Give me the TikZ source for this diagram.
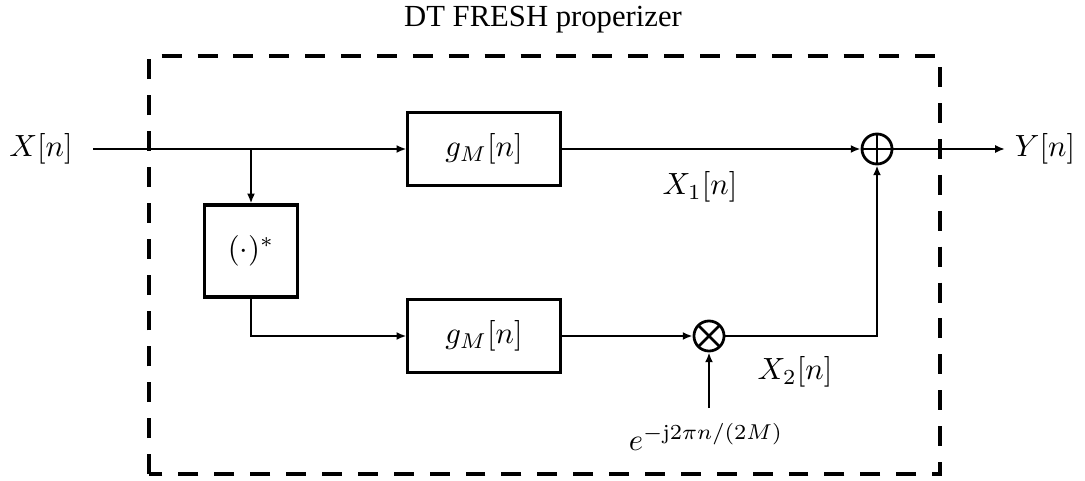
\documentclass[tikz,border=0pt]{standalone}
\usepackage{fontspec}
\newfontfamily\titlefont{Liberation Serif}
\usetikzlibrary{arrows.meta}
\tikzset{
  px/.style={x=0.326pt,y=-0.326pt},
  wire/.style={line width=0.85pt},
  arr/.style={wire,-{Latex[length=3.2pt,width=2.6pt]}},
  blockbox/.style={draw,line width=1pt,minimum width=49.6pt,minimum height=24pt,inner sep=0pt},
  conjbox/.style={draw,line width=1pt,minimum width=30.6pt,minimum height=30pt,inner sep=0pt},
  addnode/.style={circle,draw,line width=0.9pt,minimum size=9.8pt,inner sep=0pt,
    path picture={\draw[line width=0.9pt] (path picture bounding box.north) -- (path picture bounding box.south)
      (path picture bounding box.west) -- (path picture bounding box.east);}},
  mulnode/.style={circle,draw,line width=0.9pt,minimum size=9.8pt,inner sep=0pt,
    path picture={\draw[line width=0.9pt] (path picture bounding box.north west) -- (path picture bounding box.south east)
      (path picture bounding box.north east) -- (path picture bounding box.south west);}},
  frame/.style={line width=1pt,dash pattern=on 6.5pt off 5.2pt},
}
\begin{document}
\begin{tikzpicture}[px]
\useasboundingbox (0,0) rectangle (1085,481);
% frame
\draw[frame] (149,474) -- (149,56) -- (940,56) -- (940,474) -- cycle;
\node[font=\titlefont] (title) at (543,20) {DT FRESH properizer};
% nodes
\node (xin) at (41,149) {$X[n]$};
\coordinate (in) at (93,149);
\coordinate (br) at (251,149);
\node[blockbox] (g1) at (484,149) {$g_M[n]$};
\node[conjbox] (conj) at (251,251) {$(\cdot)^*$};
\coordinate (c2) at (251,336);
\node[blockbox] (g2) at (484,336) {$g_M[n]$};
\node[mulnode] (mul) at (709,336) {};
\node[addnode] (sum) at (877,149) {};
\coordinate (c3) at (877,336);
\coordinate (out) at (1005,149);
\node (yout) at (1045,149) {$Y[n]$};
\node (x1) at (700,187) {$X_1[n]$};
\node (x2) at (795,372) {$X_2[n]$};
\node (ex) at (706,437) {$e^{-\mathrm{j}2\pi n/(2M)}$};
\coordinate (exs) at (709,408);
% connectors
\draw[arr] (in) -- (g1);
\draw[arr] (br) -- (conj);
\draw[arr] (conj.south) -- (c2) -- (g2);
\draw[arr] (g1) -- (sum);
\draw[arr] (g2) -- (mul);
\draw[arr] (exs) -- (mul);
\draw[arr] (mul) -- (c3) -- (sum);
\draw[arr] (sum) -- (out);
\end{tikzpicture}
\end{document}
